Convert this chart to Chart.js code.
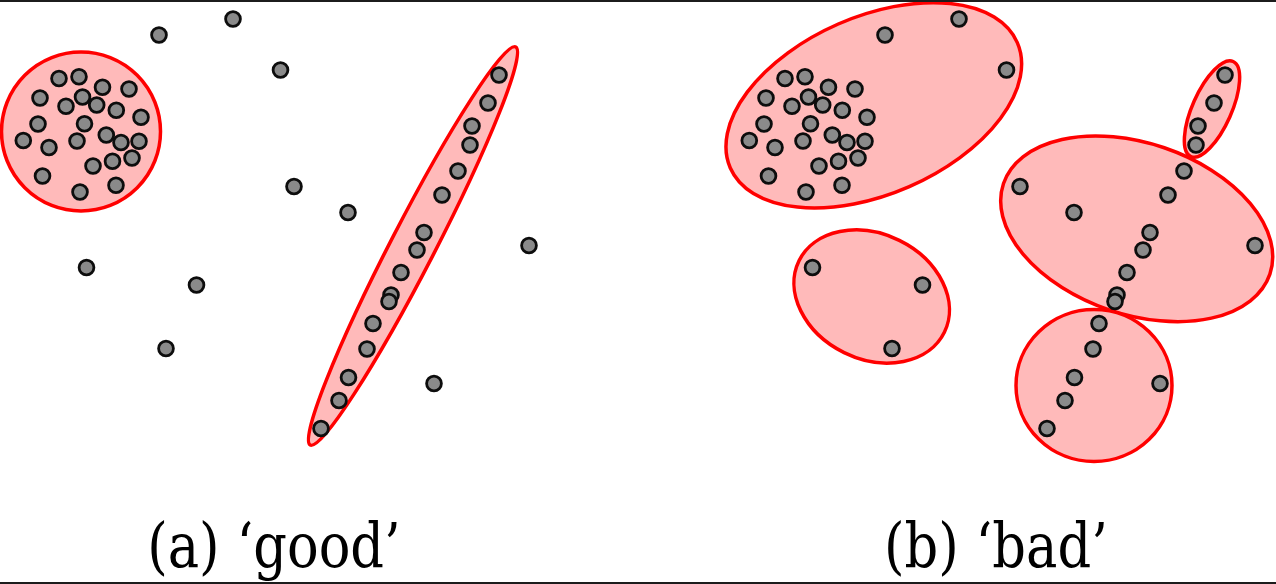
<!DOCTYPE html>
<html>
<head>
<meta charset="utf-8">
<script src="https://cdn.jsdelivr.net/npm/chart.js@4.4.0/dist/chart.umd.min.js"></script>
<style>
  html, body { margin: 0; padding: 0; background: #fff; }
  #wrap { position: relative; width: 1276px; height: 584px; overflow: hidden; }
  .caption {
    position: absolute; top: 514px;
    font-family: "DejaVu Serif", "Liberation Serif", "Times New Roman", serif;
    font-size: 62px; line-height: 63px; color: #000;
    transform: translateX(-50%) scaleX(0.85); white-space: nowrap;
  }
  .edge { position: absolute; left: 0; width: 1276px; height: 2px; background: #1c1c1c; }
</style>
</head>
<body>
<div id="wrap">
  <canvas id="myChart" width="1276" height="584"></canvas>
  <div class="edge" style="top:0"></div>
  <div class="edge" style="top:582px"></div>
  <div class="caption" id="capA" style="left:274px"></div>
  <div class="caption" id="capB" style="left:996px"></div>
</div>
<script>
// same point set in both panels, only the grouping differs
// 0-23 dense blob, 24-39 the thin line, 40-49 scattered points
var pointX = [
  59, 79, 102.5, 129, 40, 82.5, 66, 96.7, 116.3, 141, 38, 84.5, 23.3, 49, 77, 106.3, 121, 139, 132, 112.5, 93, 42.5, 80, 116,
  499, 488, 472, 470, 458, 442, 424, 417, 401, 391, 389, 373, 367, 348.5, 339, 321,
  159, 233, 280.5, 294, 348, 529, 86.5, 196.5, 166, 434
];
var pointY = [
  78.5, 76.7, 87.3, 89, 98, 97, 106.3, 105, 110.3, 117.3, 124, 123.8, 140.5, 147.5, 141, 135, 142.5, 141.3, 158, 161.3, 166, 176, 192, 185.3,
  75, 103, 126, 145, 171, 195, 232.5, 250, 272.5, 295, 301.5, 323.5, 349, 377.5, 400.5, 428.5,
  35, 19, 70, 186.5, 212.5, 245.5, 267.5, 285, 348.5, 383.5
];

// groups: [centre x, centre y, radius along axis, radius across, tilt deg]
var groupsGood = [
  [81, 131.5, 79.5, 79.5, 0],
  [413, 246, 224, 22, -62.7]
];
var groupsBad = [
  [147.8, 105.3, 156.6, 88.7, -23.6],
  [486, 109, 52, 19.5, -66],
  [410.7, 228.8, 140.7, 85.6, 18.8],
  [368, 385.5, 78, 76, 0],
  [145.7, 296.5, 81, 62.5, 26.2]
];

var captions = ['(a) \u2018good\u2019', '(b) \u2018bad\u2019'];

var points = [];
for (let i = 0; i < pointX.length; i++) {
  points.push({x: pointX[i], y: pointY[i]});
}

// draw the group ellipses under the points
var groupPlugin = {
  id: 'groups',
  beforeDatasetsDraw: function(chart) {
    var ctx = chart.ctx;
    var yScale = chart.scales.y;
    [['xa', groupsGood], ['xb', groupsBad]].forEach(function(panel) {
      var xScale = chart.scales[panel[0]];
      panel[1].forEach(function(g) {
        var cx = xScale.getPixelForValue(g[0]);
        var cy = yScale.getPixelForValue(g[1]);
        var rx = Math.abs(xScale.getPixelForValue(g[0] + g[2]) - cx);
        var ry = Math.abs(yScale.getPixelForValue(g[1] + g[3]) - cy);
        ctx.save();
        ctx.beginPath();
        ctx.ellipse(cx, cy, rx, ry, g[4] * Math.PI / 180, 0, 2 * Math.PI);
        ctx.fillStyle = '#ffbaba';
        ctx.fill();
        ctx.lineWidth = 3.5;
        ctx.strokeStyle = '#ff0000';
        ctx.stroke();
        ctx.restore();
      });
    });
  }
};

var dotStyle = {
  backgroundColor: '#8a8a8a',
  borderColor: '#0d0d0d',
  borderWidth: 2.8,
  pointRadius: 7.4,
  pointHoverRadius: 7.4,
  clip: false
};

var myChart;
function render() {
  var canvas = document.getElementById('myChart').getContext('2d');
  myChart = new Chart(canvas, {
    type: 'scatter',
    data: {
      datasets: [
        Object.assign({label: captions[0], data: points, xAxisID: 'xa'}, dotStyle),
        Object.assign({label: captions[1], data: points, xAxisID: 'xb'}, dotStyle)
      ]
    },
    options: {
      responsive: false,
      animation: false,
      devicePixelRatio: 1,
      layout: { padding: 0, autoPadding: false },
      plugins: {
        legend: { display: false },
        tooltip: { enabled: false }
      },
      scales: {
        xa: { type: 'linear', position: 'bottom', min: 0, max: 1276, display: false },
        xb: { type: 'linear', position: 'bottom', min: -726, max: 550, display: false },
        y: { type: 'linear', min: 0, max: 584, reverse: true, display: false }
      }
    },
    plugins: [groupPlugin]
  });
}
render();

document.getElementById('capA').textContent = captions[0];
document.getElementById('capB').textContent = captions[1];
</script>
</body>
</html>
